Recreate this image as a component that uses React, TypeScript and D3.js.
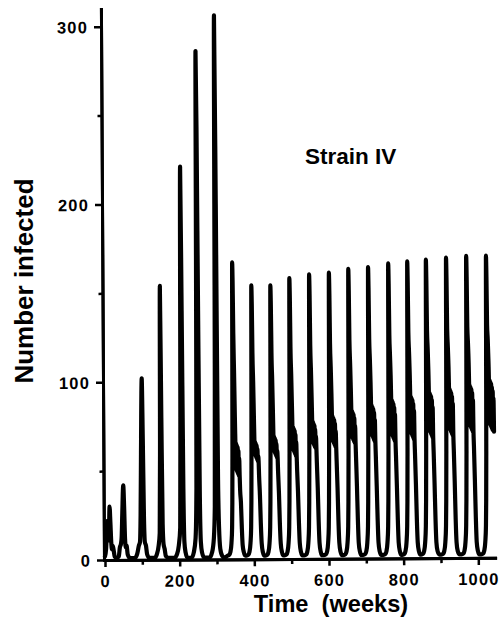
import { useEffect, useRef } from 'react';
import * as d3 from 'd3';

const W = 504;
const H = 625;
const FONT = '"Liberation Sans", Arial, Helvetica, sans-serif';

// frame (the print is turned a touch anticlockwise)
const ORIGIN = { x: 105, y: 560 };
const PX_PER_WEEK = 0.3733;
const PX_PER_CASE = 1.7777;
const TILT = -0.32;

const X_END = 1045;
const Y_END = 310;
const X_MAJOR = [0, 200, 400, 600, 800, 1000];
const X_MINOR = [100, 300, 500, 700, 900];
const Y_MAJOR = [0, 100, 200, 300];
const Y_MINOR = [50, 150, 250];

const X_TITLE = 'Time  (weeks)';
const Y_TITLE = 'Number infected';
const SERIES_NAME = 'Strain IV';

// [week, number infected] — first outbreaks, growing spikes
const OUTBREAKS: [number, number][] = [
  [0, 2], [3, 6], [5, 14], [7, 22], [9, 11], [11, 15], [13, 30], [15, 21], [17, 10], [19, 6], [21, 8], [23, 6], [26, 2], [31, 1],
  [37, 2], [40, 7], [43, 9], [45, 13], [47, 26], [50, 42], [52, 30], [54, 12], [56, 7], [58, 8], [61, 3], [67, 1],
  [80, 1], [86, 3], [91, 8], [94, 10], [96, 25], [98, 60], [101, 102], [103, 68], [105, 24], [107, 10], [110, 8], [113, 3], [119, 1],
  [133, 1], [139, 3], [144, 8], [147, 15], [149, 60], [151, 154], [153, 80], [155, 20], [157, 9], [160, 6], [163, 2], [170, 1],
  [186, 1], [193, 3], [198, 8], [202, 18], [204, 80], [207, 221], [209, 140], [211, 40], [213, 10], [216, 4], [221, 1],
  [232, 1], [238, 4], [243, 12], [246, 40], [248, 150], [250, 286], [251.5, 243], [253, 140], [255, 35], [257, 10], [260, 4], [266, 1],
  [280, 1], [287, 4], [292, 12], [295, 30], [297, 110], [300, 306], [302, 200], [304, 45], [306, 18], [309, 6], [314, 2], [320, 1],
];

// [week, number infected] — settled annual cycles with the ragged shoulder
const CYCLES: [number, number][] = [
  [328, 2], [333, 2.5], [336, 4], [339, 9], [341, 18], [342, 32], [343, 60], [344, 110], [345, 167],
  [346, 155], [347, 127], [348.5, 105], [350, 80], [351, 66], [352, 52], [353, 65], [354, 50], [355, 64], [356, 49], [357, 63], [358, 48],
  [359, 61], [360, 47], [361, 57], [362, 47], [363, 39], [365, 32], [367, 18], [369, 8], [372, 4], [376, 2],

  [379, 2], [384, 2.5], [387, 4], [390, 9], [392, 18], [393, 32], [394, 60], [395, 108], [396, 154],
  [397, 143], [398, 116], [399.5, 100], [401, 80], [402, 67], [403, 60], [404, 66], [405, 58], [406, 65], [407, 57], [408, 64], [409, 56],
  [410, 62], [411, 55], [412, 58], [413, 55], [414, 47], [416, 36], [418, 20], [420, 9], [423, 4], [427, 2],

  [430, 2], [435, 2.5], [438, 4], [441, 9], [443, 18], [444, 32], [445, 60], [446, 108], [447, 154],
  [448, 143], [449, 116], [450.5, 101], [452, 83], [453, 70], [454, 62], [455, 69], [456, 60], [457, 68], [458, 59], [459, 67], [460, 58],
  [461, 65], [462, 57], [463, 61], [464, 57], [465, 49], [467, 37], [469, 20], [471, 9], [474, 4], [478, 2],

  [481, 2], [486, 2.5], [489, 4], [492, 9], [494, 18], [495, 32], [496, 60], [497, 110], [498, 158],
  [499, 147], [500, 119], [501.5, 104], [503, 87], [504, 75], [505, 63], [506, 74], [507, 61], [508, 73], [509, 60], [510, 72], [511, 59],
  [512, 70], [513, 58], [514, 66], [515, 58], [516, 50], [518, 38], [520, 21], [522, 9], [525, 4], [529, 2],

  [534, 2], [539, 2.5], [542, 4], [545, 9], [547, 18], [548, 32], [549, 60], [550, 110], [551, 160],
  [552, 148], [553, 120], [554.5, 106], [556, 90], [557, 78], [558, 67], [559, 77], [560, 65], [561, 76], [562, 64], [563, 75], [564, 63],
  [565, 73], [566, 62], [567, 69], [568, 62], [569, 54], [571, 40], [573, 21], [575, 9], [578, 4], [582, 2],

  [587, 2], [592, 2.5], [595, 4], [598, 9], [600, 18], [601, 32], [602, 60], [603, 110], [604, 161],
  [605, 149], [606, 121], [607.5, 108], [609, 93], [610, 81], [611, 68], [612, 80], [613, 66], [614, 79], [615, 65], [616, 78], [617, 64],
  [618, 76], [619, 63], [620, 72], [621, 63], [622, 55], [624, 40], [626, 21], [628, 9], [631, 4], [635, 2],

  [639, 2], [644, 2.5], [647, 4], [650, 9], [652, 18], [653, 32], [654, 60], [655, 112], [656, 163],
  [657, 151], [658, 123], [659.5, 110], [661, 96], [662, 84], [663, 70], [664, 83], [665, 68], [666, 82], [667, 67], [668, 81], [669, 66],
  [670, 79], [671, 65], [672, 75], [673, 65], [674, 57], [676, 41], [678, 22], [680, 9], [683, 4], [687, 2],

  [692, 2], [697, 2.5], [700, 4], [703, 9], [705, 18], [706, 32], [707, 60], [708, 112], [709, 164],
  [710, 152], [711, 124], [712.5, 112], [714, 99], [715, 87], [716, 71], [717, 86], [718, 69], [719, 85], [720, 68], [721, 84], [722, 67],
  [723, 82], [724, 66], [725, 78], [726, 66], [727, 58], [729, 41], [731, 22], [733, 9], [736, 4], [740, 2],

  [746, 2], [751, 2.5], [754, 4], [757, 9], [759, 18], [760, 32], [761, 60], [762, 113], [763, 166],
  [764, 154], [765, 126], [766.5, 114], [768, 102], [769, 90], [770, 71], [771, 89], [772, 69], [773, 88], [774, 68], [775, 87], [776, 67],
  [777, 85], [778, 66], [779, 81], [780, 66], [781, 58], [783, 41], [785, 22], [787, 9], [790, 4], [794, 2],

  [797, 2], [802, 2.5], [805, 4], [808, 9], [810, 18], [811, 32], [812, 60], [813, 113], [814, 167],
  [815, 155], [816, 127], [817.5, 116], [819, 104], [820, 92], [821, 72], [822, 91], [823, 70], [824, 90], [825, 69], [826, 89], [827, 68],
  [828, 87], [829, 67], [830, 83], [831, 67], [832, 59], [834, 42], [836, 22], [838, 9], [841, 4], [845, 2],

  [847, 2], [852, 2.5], [855, 4], [858, 9], [860, 18], [861, 32], [862, 60], [863, 114], [864, 168],
  [865, 156], [866, 128], [867.5, 118], [869, 106], [870, 94], [871, 73], [872, 93], [873, 71], [874, 92], [875, 70], [876, 91], [877, 69],
  [878, 89], [879, 68], [880, 85], [881, 68], [882, 60], [884, 42], [886, 22], [888, 9], [891, 4], [896, 2],

  [901, 2], [906, 2.5], [909, 4], [912, 9], [914, 18], [915, 32], [916, 60], [917, 114], [918, 169],
  [919, 157], [920, 129], [921.5, 119], [923, 108], [924, 96], [925, 74], [926, 95], [927, 72], [928, 94], [929, 71], [930, 93], [931, 70],
  [932, 91], [933, 69], [934, 87], [935, 69], [936, 61], [938, 43], [940, 22], [942, 9], [945, 4], [950, 2],

  [955, 2], [960, 2.5], [963, 4], [966, 9], [968, 18], [969, 32], [970, 60], [971, 115], [972, 170],
  [973, 158], [974, 130], [975.5, 121], [977, 110], [978, 98], [979, 76], [980, 97], [981, 74], [982, 96], [983, 73], [984, 95], [985, 72],
  [986, 93], [987, 71], [988, 89], [989, 71], [990, 63], [992, 44], [994, 23], [996, 9], [999, 4], [1003, 2],

  [1008, 2], [1013, 2.5], [1016, 4], [1019, 9], [1021, 18], [1022, 32], [1023, 60], [1024, 115], [1025, 170],
  [1026, 158], [1027, 131], [1028.5, 123], [1030, 112], [1031, 101], [1032, 77], [1033, 100], [1034, 75], [1035, 99], [1036, 74], [1037, 98],
  [1038, 73], [1039, 96], [1040, 72], [1041, 94], [1042, 72], [1043, 90], [1044, 71],
];

export default function App() {
  const plotRef = useRef<SVGGElement>(null);

  useEffect(() => {
    const root = d3.select(plotRef.current);
    root.selectAll('*').remove();

    const x = d3.scaleLinear().domain([0, X_END]).range([ORIGIN.x, ORIGIN.x + X_END * PX_PER_WEEK]);
    const y = d3.scaleLinear().domain([0, Y_END]).range([ORIGIN.y, ORIGIN.y - Y_END * PX_PER_CASE]);

    const frame = root.append('g').attr('transform', `rotate(${TILT},${ORIGIN.x},${ORIGIN.y})`);

    const inkAxis = (g: any) => {
      g.attr('font-family', FONT).attr('font-size', 16.5).attr('font-weight', 'bold');
      g.select('.domain').attr('stroke', '#000').attr('stroke-width', 3).attr('stroke-linecap', 'square');
      g.selectAll('.tick line').attr('stroke', '#000').attr('stroke-width', 2.5);
      g.selectAll('.tick text').attr('fill', '#000').attr('letter-spacing', 1.2);
    };

    // x axis, ticks hang below the line
    frame.append('g')
      .attr('transform', `translate(0,${y(0)})`)
      .call(d3.axisBottom(x).tickValues(X_MINOR).tickSize(5).tickSizeOuter(0).tickFormat(() => ''))
      .call(inkAxis);
    frame.append('g')
      .attr('transform', `translate(0,${y(0)})`)
      .call(d3.axisBottom(x).tickValues(X_MAJOR).tickSize(7).tickSizeOuter(0).tickFormat(d3.format('d')))
      .call(inkAxis)
      .call((g: any) => g.selectAll('.tick text').attr('y', 27).attr('dy', null));

    // y axis sits a hair left of week 0
    const yAxisX = x(0) - 1;
    frame.append('g')
      .attr('transform', `translate(${yAxisX},0)`)
      .call(d3.axisLeft(y).tickValues(Y_MINOR).tickSize(4).tickSizeOuter(0).tickFormat(() => ''))
      .call(inkAxis);
    frame.append('g')
      .attr('transform', `translate(${yAxisX},0)`)
      .call(d3.axisLeft(y).tickValues(Y_MAJOR).tickSize(7).tickSizeOuter(0).tickFormat(d3.format('d')))
      .call(inkAxis)
      .call((g: any) => g.selectAll('.tick text').attr('x', -13).attr('dy', '0.36em'));

    const line = d3.line<[number, number]>()
      .x(d => x(d[0]))
      .y(d => y(d[1]))
      .curve(d3.curveMonotoneX);

    frame.append('path')
      .datum([...OUTBREAKS, ...CYCLES])
      .attr('d', line)
      .attr('fill', 'none')
      .attr('stroke', '#000')
      .attr('stroke-width', 4.2)
      .attr('stroke-linejoin', 'round')
      .attr('stroke-linecap', 'round');
  }, []);

  return (
    <svg
      width={W}
      height={H}
      viewBox={`0 0 ${W} ${H}`}
      style={{ position: 'absolute', left: 0, top: 0, background: '#fff', display: 'block' }}
    >
      <g ref={plotRef} />
      <text
        transform="translate(33,281) rotate(-90)"
        textAnchor="middle"
        fontFamily={FONT}
        fontWeight="bold"
        fontSize={26}
        fill="#000"
      >
        {Y_TITLE}
      </text>
      <text
        x={331}
        y={612}
        textAnchor="middle"
        fontFamily={FONT}
        fontWeight="bold"
        fontSize={23.6}
        fill="#000"
        style={{ whiteSpace: 'pre' }}
      >
        {X_TITLE}
      </text>
      <text x={305} y={164} fontFamily={FONT} fontWeight="bold" fontSize={22.5} fill="#000">
        {SERIES_NAME}
      </text>
    </svg>
  );
}
